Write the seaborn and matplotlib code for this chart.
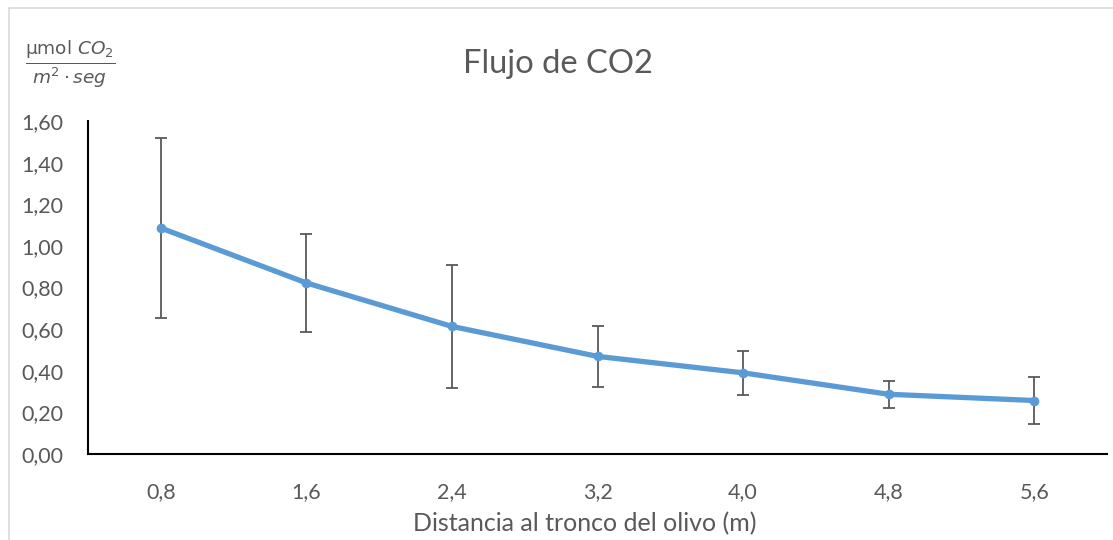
import matplotlib
matplotlib.use("Agg")
import matplotlib.pyplot as plt
from matplotlib.patches import Rectangle
from matplotlib.ticker import FixedLocator, FuncFormatter
import seaborn as sns
import pandas as pd
import numpy as np

# ---- data ----
distances = ["0,8", "1,6", "2,4", "3,2", "4,0", "4,8", "5,6"]
flux = [1.086, 0.822, 0.613, 0.469, 0.390, 0.287, 0.257]
flux_err = [0.433, 0.237, 0.295, 0.146, 0.105, 0.064, 0.115]
y_ticks = [0.0, 0.2, 0.4, 0.6, 0.8, 1.0, 1.2, 1.4, 1.6]

title = "Flujo de CO2"
x_label = "Distancia al tronco del olivo (m)"
y_label = r"$\frac{\mathrm{\mu mol}\ CO_2}{m^2 \cdot seg}$"

df = pd.DataFrame({"dist": distances, "flux": flux, "err": flux_err})

sns.set_style("white")
plt.rcParams["font.family"] = ["Lato", "DejaVu Sans"]

W, H = 1113, 540
fig = plt.figure(figsize=(W / 100, H / 100), dpi=100)
ax = fig.add_axes([88 / W, (540 - 454) / H, (1107 - 88) / W, (454 - 121) / H])

text_grey = "#595959"
blue = "#5B9BD5"

ax.errorbar(df["dist"], df["flux"], yerr=df["err"], fmt="none",
            ecolor="#595959", elinewidth=1.3, capsize=4.3, capthick=1.3, zorder=2)
sns.lineplot(data=df, x="dist", y="flux", ax=ax, color=blue, linewidth=3.8,
             marker="o", markersize=7, markeredgewidth=0, zorder=3, sort=False)

n = len(distances)
ax.set_xlim(-0.5, n - 0.5)
ax.set_ylim(0, 1.6)
ax.set_yticks(y_ticks)
ax.yaxis.set_major_formatter(FuncFormatter(lambda v, p: f"{v:.2f}".replace(".", ",")))
ax.xaxis.set_minor_locator(FixedLocator(np.arange(-0.5, n, 1.0)))
ax.tick_params(axis="x", which="major", length=0, pad=20, labelsize=15.5, labelcolor=text_grey)
ax.tick_params(axis="x", which="minor", length=7, width=1.4, color="black", direction="out")
ax.tick_params(axis="y", which="major", length=0, pad=18, labelsize=15.5, labelcolor=text_grey)

for s in ["top", "right"]:
    ax.spines[s].set_visible(False)
for s in ["left", "bottom"]:
    ax.spines[s].set_color("black")
    ax.spines[s].set_linewidth(1.5)

ax.set_xlabel("")
ax.set_ylabel("")
ax.grid(False)

fig.text(558 / W, 1 - 64 / H, title, ha="center", va="center", fontsize=23.6, color=text_grey)
fig.text(585 / W, 1 - 524 / H, x_label, ha="center", va="center", fontsize=18, color=text_grey)
fig.text(70 / W, 1 - 64 / H, y_label, ha="center", va="center", fontsize=19, color=text_grey)

fig.patches.append(Rectangle((9 / W, -0.1), 2.0, 1 - 8 / H + 0.1, transform=fig.transFigure,
                             fill=False, edgecolor="#D9D9D9", linewidth=1.2))

fig.savefig("out.png", dpi=100)
